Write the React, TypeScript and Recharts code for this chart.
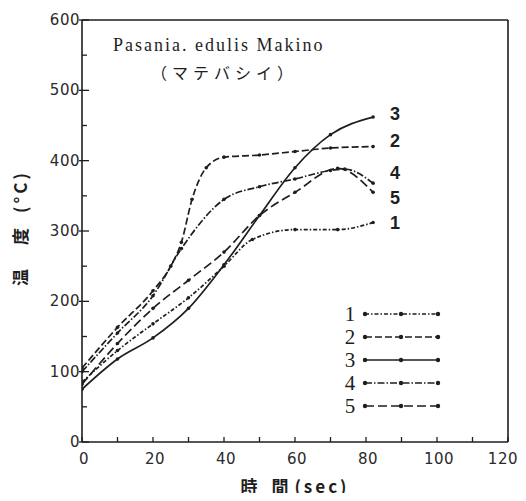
import React from "react"
import {
  LineChart,
  Line,
  XAxis,
  YAxis,
  ReferenceLine,
  Legend,
} from "recharts"

// time (sec) / temperature (°C)
const t1 = [0, 10, 20, 30, 40, 48, 60, 72, 82]
const v1 = [85, 130, 168, 205, 250, 288, 302, 302, 312]

const t2 = [0, 10, 20, 25, 28, 31, 35, 40, 50, 60, 70, 82]
const v2 = [105, 163, 215, 250, 284, 345, 390, 405, 408, 413, 418, 420]

const t3 = [0, 10, 20, 30, 40, 50, 60, 70, 82]
const v3 = [75, 118, 148, 190, 252, 322, 390, 437, 462]

const t4 = [0, 10, 20, 28, 40, 50, 60, 70, 74, 82]
const v4 = [100, 155, 208, 275, 345, 363, 374, 386, 388, 368]

const t5 = [0, 10, 20, 30, 40, 50, 60, 72, 82]
const v5 = [82, 140, 190, 230, 270, 322, 355, 389, 355]

const seriesNames = ["1", "2", "3", "4", "5"]
const xTicks = [0, 10, 20, 30, 40, 50, 60, 70, 80, 90, 100, 110, 120]
const yTicks = [0, 50, 100, 150, 200, 250, 300, 350, 400, 450, 500, 550, 600]

const toRows = (ts: number[], vs: number[]) => ts.map((t, i) => ({ t, v: vs[i] }))
const seriesData = [toRows(t1, v1), toRows(t2, v2), toRows(t3, v3), toRows(t4, v4), toRows(t5, v5)]

const ink = "#1e1e1e"
const dashes = ["4 2 1.5 2", "7 3", "", "7 2 1.5 2", "9 4"]
const endLabelDy = [0, -6, -3, -10, 6]

const tickFont = { fontFamily: "DejaVu Sans", fontSize: 15, fill: "#2a2a2a", letterSpacing: 0.5 }

const YTick = (props: any) => {
  const { x, y, payload } = props
  const major = payload.value % 100 === 0
  return (
    <g>
      <line x1={x - (major ? 3 : 0)} x2={x + (major ? 7 : 5)} y1={y} y2={y} stroke={ink} strokeWidth={1.3} />
      {major && (
        <text x={x - 2} y={y + 5} textAnchor="end" {...tickFont}>
          {payload.value}
        </text>
      )}
    </g>
  )
}

const XTick = (props: any) => {
  const { x, y, payload } = props
  const major = payload.value % 20 === 0
  const last = payload.value === 120
  return (
    <g>
      <line x1={x} x2={x} y1={y} y2={y - 5} stroke={ink} strokeWidth={1.3} />
      {major && (
        <text x={last ? x + 10 : x + 2} y={y + 22} textAnchor={last ? "end" : "middle"} {...tickFont}>
          {payload.value}
        </text>
      )}
    </g>
  )
}

// rotated y-axis title, placed at the left edge of the axis box
const YTitle = (props: any) => {
  const { viewBox } = props
  const cx = viewBox.x + 11
  const cy = viewBox.y + viewBox.height / 2 - 3
  return (
    <text
      x={cx}
      y={cy}
      textAnchor="middle"
      dominantBaseline="central"
      transform={`rotate(-90, ${cx}, ${cy})`}
      fontFamily="Noto Sans CJK JP"
      fontWeight="bold"
      fontSize={17}
      fill={ink}
    >
      <tspan>温</tspan>
      <tspan dx={24}>度</tspan>
      <tspan dx={15} letterSpacing={3}>(°C)</tspan>
    </text>
  )
}

const endLabel = (idx: number, count: number) => (props: any) => {
  const { x, y, index } = props
  if (index !== count - 1) return null
  return (
    <text
      key={`end-${idx}`}
      x={x + 17}
      y={y + 6 + endLabelDy[idx]}
      fontFamily="Liberation Sans"
      fontWeight="bold"
      fontSize={18}
      fill={ink}
    >
      {seriesNames[idx]}
    </text>
  )
}

const LegendBox = () => (
  <svg width={110} height={122}>
    {seriesNames.map((name, i) => {
      const y = 14 + i * 23
      return (
        <g key={name}>
          <text x={14} y={y + 7} textAnchor="middle" fontFamily="Liberation Serif" fontSize={21} fill={ink}>
            {name}
          </text>
          <line x1={29} x2={102} y1={y} y2={y} stroke={ink} strokeWidth={1.6} strokeDasharray={dashes[i]} />
          {[29, 65, 102].map((cx) => (
            <circle key={cx} cx={cx} cy={y} r={2.2} fill={ink} />
          ))}
        </g>
      )
    })}
  </svg>
)

const overlay = {
  position: "absolute" as const,
  color: ink,
  whiteSpace: "nowrap" as const,
  lineHeight: 1,
}

export default function App() {
  return (
    <div
      style={{
        position: "relative",
        width: 510,
        height: 493,
        marginBottom: -8,
        background: "#fff",
        overflow: "hidden",
      }}
    >
      <LineChart width={510} height={485} margin={{ top: 12, right: 10, left: 0, bottom: 0 }}>
        <XAxis
          type="number"
          dataKey="t"
          domain={[0, 120]}
          ticks={xTicks}
          interval={0}
          height={51}
          tickSize={0}
          tickMargin={0}
          tick={<XTick />}
          axisLine={{ stroke: ink, strokeWidth: 1.6 }}
          allowDataOverflow
        />
        <YAxis
          type="number"
          dataKey="v"
          domain={[0, 600]}
          ticks={yTicks}
          interval={0}
          width={74}
          tickSize={0}
          tickMargin={0}
          tick={<YTick />}
          axisLine={{ stroke: ink, strokeWidth: 1.6 }}
          label={{ content: <YTitle /> }}
          allowDataOverflow
        />
        <ReferenceLine y={600} stroke={ink} strokeWidth={1.6} />
        <ReferenceLine x={120} stroke={ink} strokeWidth={1.6} />
        <Legend
          layout="vertical"
          align="center"
          verticalAlign="middle"
          content={<LegendBox />}
          wrapperStyle={{ left: 328, top: 292, width: 110, height: 122 }}
        />
        {seriesData.map((rows, i) => (
          <Line
            key={seriesNames[i]}
            data={rows}
            dataKey="v"
            name={seriesNames[i]}
            type="monotone"
            stroke={ink}
            strokeWidth={1.7}
            strokeDasharray={dashes[i] || undefined}
            dot={{ r: 1.8, fill: ink, stroke: "none" }}
            label={endLabel(i, rows.length)}
            isAnimationActive={false}
          />
        ))}
      </LineChart>
      <div style={{ ...overlay, left: 105, top: 28, fontFamily: "Liberation Serif", fontSize: 18, letterSpacing: 2 }}>
        Pasania. edulis Makino
      </div>
      <div style={{ ...overlay, left: 143, top: 56, fontFamily: "Noto Sans CJK JP", fontSize: 16, letterSpacing: 5 }}>
        （マテバシイ）
      </div>
      <div
        style={{
          ...overlay,
          left: 287,
          top: 477,
          transform: "translate(-50%, -50%)",
          fontFamily: "Noto Sans CJK JP",
          fontWeight: "bold",
          fontSize: 17,
        }}
      >
        <span style={{ marginRight: 14 }}>時</span>
        <span style={{ marginRight: 6 }}>間</span>
        <span style={{ letterSpacing: 3 }}>(sec)</span>
      </div>
    </div>
  )
}
